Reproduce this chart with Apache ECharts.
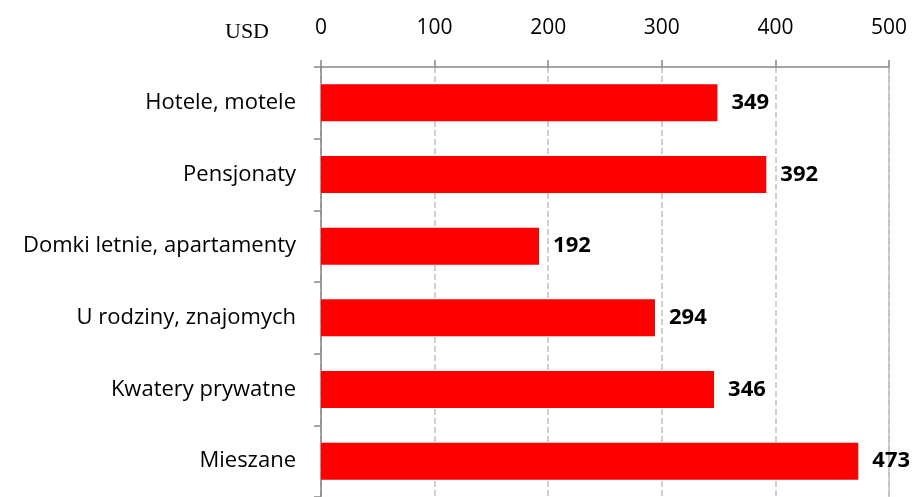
<!DOCTYPE html>
<html>
<head>
<meta charset="utf-8">
<script src="https://cdn.jsdelivr.net/npm/echarts@6/dist/echarts.min.js"></script>
<style>
  html, body { margin: 0; padding: 0; background: #fff; }
  #chart { width: 914px; height: 497px; }
</style>
</head>
<body>
<div id="chart"></div>
<script>
var categories = ['Hotele, motele', 'Pensjonaty', 'Domki letnie, apartamenty', 'U rodziny, znajomych', 'Kwatery prywatne', 'Mieszane'];
var values = [349, 392, 192, 294, 346, 473];
var unitLabel = 'USD';

var chart = echarts.init(document.getElementById('chart'));
chart.setOption({
  animation: false,
  textStyle: { fontFamily: 'Open Sans' },
  grid: { left: 321, right: 25, top: 67, bottom: -6, containLabel: false },
  graphic: [{
    type: 'text',
    left: 225,
    top: 21,
    style: { text: unitLabel, font: '22px "Liberation Serif"', fill: '#000' }
  }],
  xAxis: {
    type: 'value',
    position: 'top',
    min: 0,
    max: 500,
    interval: 100,
    axisLine: { show: true, lineStyle: { color: '#868686', width: 1.5 } },
    axisTick: { show: true, length: 7, lineStyle: { color: '#868686', width: 1.5 } },
    axisLabel: { color: '#000', fontSize: 21, margin: 28, fontFamily: 'Open Sans' },
    splitLine: { show: true, lineStyle: { color: '#c0c0c0', type: 'dashed', width: 1.5 } }
  },
  yAxis: [{
    type: 'category',
    data: categories,
    inverse: true,
    axisLine: { show: true, lineStyle: { color: '#868686', width: 1.5 } },
    axisTick: { show: true, length: 7, lineStyle: { color: '#868686', width: 1.5 } },
    axisLabel: { color: '#000', fontSize: 22, margin: 25, fontFamily: 'Open Sans' }
  }, {
    type: 'category',
    data: categories,
    inverse: true,
    position: 'right',
    axisLine: { show: true, lineStyle: { color: '#c0c0c0', width: 1.5 } },
    axisTick: { show: false },
    axisLabel: { show: false }
  }],
  series: [{
    type: 'bar',
    data: values,
    barWidth: 37,
    itemStyle: { color: '#ff0000' },
    label: {
      show: true,
      position: 'right',
      distance: 14,
      color: '#000',
      fontWeight: 'bold',
      fontSize: 22,
      fontFamily: 'Open Sans'
    }
  }]
});
</script>
</body>
</html>
